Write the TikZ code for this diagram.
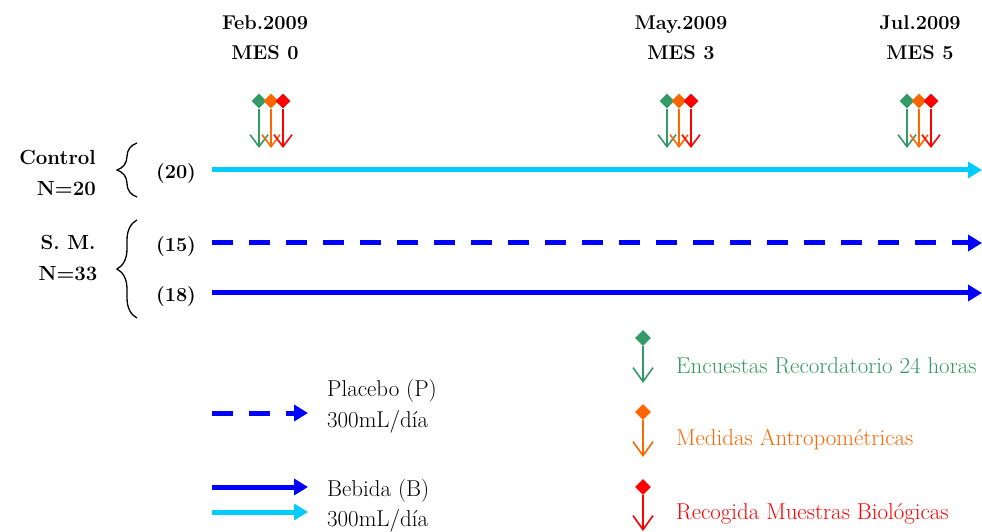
\documentclass[tikz,border=0pt]{standalone}
\usepackage{fontspec}
\usetikzlibrary{arrows.meta,shapes.geometric,decorations.pathreplacing}
\definecolor{celeste}{RGB}{0,204,255}
\definecolor{azul}{RGB}{0,0,255}
\definecolor{verde}{RGB}{51,153,102}
\definecolor{naranja}{RGB}{255,102,0}
\definecolor{rojo}{RGB}{255,0,0}
\tikzset{
  hdr/.style={font=\fontsize{20}{30}\selectfont\bfseries, align=center, inner sep=0pt},
  grp/.style={font=\fontsize{20.5}{32}\selectfont\bfseries, inner sep=0pt},
  num/.style={font=\fontsize{20}{22}\selectfont\bfseries, inner sep=0pt},
  txt/.style={font=\fontsize{23}{30}\selectfont, anchor=west, inner sep=0pt},
  eje/.style={line width=5bp, -{Triangle[length=14bp,width=16bp]}},
  gem/.style={diamond, fill=#1, inner sep=0pt, minimum size=15bp},
  probe/.style={draw=#1, line width=1.6bp, -{Straight Barb[length=12bp,width=18bp]}},
  llave/.style={line width=1.3bp, decorate, decoration={brace,amplitude=20bp}}
}
\begin{document}
\begin{tikzpicture}[x=1bp,y=-1bp]
        \useasboundingbox (0,0) rectangle (982,532);
        % dates
        \node[hdr] (feb) at (265,38) {Feb.2009\\MES 0};
        \node[hdr] (may) at (681,38) {May.2009\\MES 3};
        \node[hdr] (jul) at (920,38) {Jul.2009\\MES 5};
        % groups
        \node[grp, align=right, anchor=east] (ctl) at (96,173) {Control\\N=20};
        \node[grp, align=center] (sm) at (68,258) {S. M.\\N=33};
        \draw[llave] (137,197) -- (137,143);
        \draw[llave] (137,318) -- (137,220);
        \node[num] (n20) at (176,174) {(20)};
        \node[num] (n15) at (176,247) {(15)};
        \node[num] (n18) at (176,297) {(18)};
        % timelines
        \coordinate (c0) at (212,170); \coordinate (c1) at (982,170);
        \coordinate (p0) at (212,243); \coordinate (p1) at (982,243);
        \coordinate (b0) at (212,293); \coordinate (b1) at (982,293);
        \draw[eje, celeste] (c0) -- (c1);
        \draw[eje, azul, dash pattern=on 21bp off 16bp] (p0) -- (p1);
        \draw[eje, azul] (b0) -- (b1);
        % measurements
        \foreach \x in {259,667,907} {
          \node[gem=verde] (g\x) at (\x,101) {};
          \coordinate (gt\x) at (\x,148);
          \draw[probe=verde] (g\x.south) -- (gt\x);
          \node[gem=naranja] (o\x) at (\x+12,101) {};
          \coordinate (ot\x) at (\x+12,148);
          \draw[probe=naranja] (o\x.south) -- (ot\x);
          \node[gem=rojo] (r\x) at (\x+24,101) {};
          \coordinate (rt\x) at (\x+24,148);
          \draw[probe=rojo] (r\x.south) -- (rt\x);
        }
        % legend, drinks
        \coordinate (lp0) at (212,413); \coordinate (lp1) at (308,413);
        \coordinate (lb0) at (212,487); \coordinate (lb1) at (308,487);
        \coordinate (lc0) at (212,512); \coordinate (lc1) at (308,512);
        \draw[eje, azul, dash pattern=on 21bp off 16bp] (lp0) -- (lp1);
        \draw[eje, azul] (lb0) -- (lb1);
        \draw[eje, celeste] (lc0) -- (lc1);
        \node[txt] (plac) at (327,391) {Placebo (P)};
        \node[txt] (plac2) at (327,422) {300mL/día};
        \node[txt] (beb) at (327,491) {Bebida (B)};
        \node[txt] (beb2) at (327,521) {300mL/día};
        % legend, measurements
        \node[gem=verde, minimum size=16bp] (lg) at (643,338) {};
        \coordinate (lgt) at (643,383);
        \draw[probe=verde, -{Straight Barb[length=14bp,width=20bp]}] (lg.south) -- (lgt);
        \node[gem=naranja, minimum size=16bp] (lo) at (643,412) {};
        \coordinate (lot) at (643,457);
        \draw[probe=naranja, -{Straight Barb[length=14bp,width=20bp]}] (lo.south) -- (lot);
        \node[gem=rojo, minimum size=16bp] (lr) at (643,487) {};
        \coordinate (lrt) at (643,531);
        \draw[probe=rojo, -{Straight Barb[length=14bp,width=20bp]}] (lr.south) -- (lrt);
        \node[txt, text=verde] (enc) at (676,366) {Encuestas Recordatorio 24 horas};
        \node[txt, text=naranja] (med) at (676,440) {Medidas Antropométricas};
        \node[txt, text=rojo] (rec) at (676,514) {Recogida Muestras Biológicas};
\end{tikzpicture}
\end{document}
